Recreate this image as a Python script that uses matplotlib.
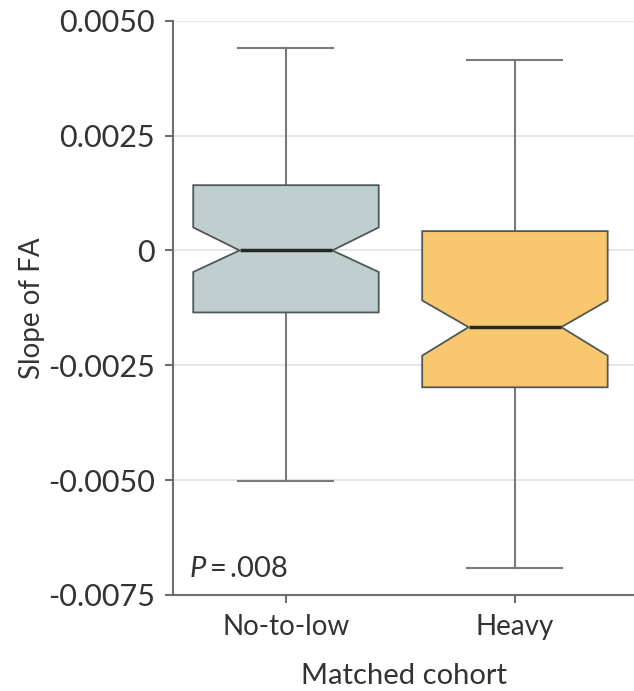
import matplotlib
matplotlib.use("Agg")
import matplotlib.pyplot as plt

# values (slope of FA)
groups = ["No-to-low", "Heavy"]
whis_hi = [0.00441, 0.00415]
q3 = [0.00142, 0.00042]
medians = [0.00000, -0.00167]
q1 = [-0.00135, -0.00298]
whis_lo = [-0.00502, -0.00692]
notch_hi = [0.00050, -0.00109]
notch_lo = [-0.00047, -0.00229]
fills = ["#bfcfcf", "#f9c76e"]

yticks = [0.0050, 0.0025, 0.0, -0.0025, -0.0050, -0.0075]
ytick_labels = ["0.0050", "0.0025", "0", "-0.0025", "-0.0050", "-0.0075"]

plt.rcParams["font.family"] = ["Lato", "DejaVu Sans"]
plt.rcParams["mathtext.fontset"] = "custom"
plt.rcParams["mathtext.it"] = "Lato:italic"
plt.rcParams["mathtext.rm"] = "Lato"

fig = plt.figure(figsize=(6.34, 6.91), dpi=100)
ax = fig.add_axes([0.273, 0.139, 0.727, 0.831])

stats = []
for i in range(len(groups)):
    stats.append({
        "label": groups[i],
        "med": medians[i],
        "q1": q1[i],
        "q3": q3[i],
        "whislo": whis_lo[i],
        "whishi": whis_hi[i],
        "cilo": notch_lo[i],
        "cihi": notch_hi[i],
        "fliers": [],
    })

bp = ax.bxp(stats, positions=[1, 2], widths=0.81, capwidths=0.415,
            shownotches=True, patch_artist=True, showfliers=False,
            boxprops=dict(edgecolor="#4f5858", linewidth=1.3),
            whiskerprops=dict(color="#7a7a7a", linewidth=1.5),
            capprops=dict(color="#7a7a7a", linewidth=1.5),
            medianprops=dict(color="#262626", linewidth=2.5))
for patch, c in zip(bp["boxes"], fills):
    patch.set_facecolor(c)
    patch.set_zorder(3)
for m in bp["medians"]:
    m.set_zorder(4)

ax.set_xlim(0.507, 2.52)
ax.set_ylim(-0.0075, 0.0050)
ax.set_yticks(yticks)
ax.set_yticklabels(ytick_labels)
ax.set_xticks([1, 2])
ax.set_xticklabels(groups)
ax.yaxis.grid(True, color="#e2e2e2", linewidth=1.2, zorder=0)
ax.set_axisbelow(True)

for s in ["top", "right"]:
    ax.spines[s].set_visible(False)
for s in ["left", "bottom"]:
    ax.spines[s].set_color("#6e6e6e")
    ax.spines[s].set_linewidth(1.5)
ax.tick_params(axis="both", colors="#6e6e6e", width=1.5, length=6,
               labelcolor="#333333")
ax.tick_params(axis="y", labelsize=22, pad=7)
ax.tick_params(axis="x", labelsize=20, pad=8)

ax.set_ylabel("Slope of FA", fontsize=20, color="#333333", labelpad=2)
ax.set_xlabel("Matched cohort", fontsize=21, color="#333333", labelpad=16)

ax.text(0.035, 0.022, "$P$\u2009=\u2009.008", transform=ax.transAxes, fontsize=21,
        color="#333333", ha="left", va="bottom")

fig.savefig("out.png", dpi=100)
